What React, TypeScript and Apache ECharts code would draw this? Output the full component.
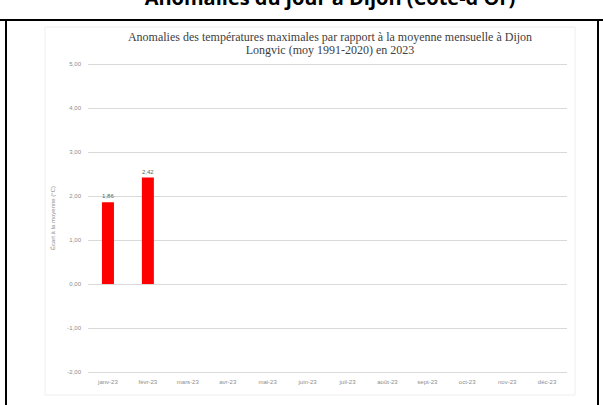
import React, { useEffect, useRef } from "react";
import * as echarts from "echarts";

const months = ["janv-23", "févr-23", "mars-23", "avr-23", "mai-23", "juin-23", "juil-23", "août-23", "sept-23", "oct-23", "nov-23", "déc-23"];
const anomalies: (number | null)[] = [1.86, 2.42, null, null, null, null, null, null, null, null, null, null];
const titleLines = [
  "Anomalies des températures maximales par rapport à la moyenne mensuelle à Dijon",
  "Longvic (moy 1991-2020) en 2023",
];
const headerText = "Anomalies du jour à Dijon (Côte-d'Or)";
const yAxisName = "Écart à la moyenne (°C)";

export default function App() {
  const ref = useRef<HTMLDivElement>(null);
  useEffect(() => {
    if (!ref.current) return;
    const chart = echarts.init(ref.current, null, { renderer: "svg" });
    chart.setOption({
      animation: false,
      backgroundColor: "#ffffff",
      graphic: [
        { type: "rect", shape: { x: 45, y: 27, width: 530, height: 368 }, style: { fill: "#ffffff", stroke: "#eeeeee", lineWidth: 1 }, z: -10 },
        { type: "line", shape: { x1: 0, y1: 20, x2: 603, y2: 20 }, style: { stroke: "#000000", lineWidth: 2 } },
        { type: "line", shape: { x1: 6, y1: 20, x2: 6, y2: 405 }, style: { stroke: "#000000", lineWidth: 2 } },
        { type: "line", shape: { x1: 598, y1: 20, x2: 598, y2: 405 }, style: { stroke: "#000000", lineWidth: 2 } },
        { type: "text", x: 330, y: -13, style: { text: headerText, font: "bold 20px 'Open Sans'", fill: "#000000", textAlign: "center", textVerticalAlign: "top" } },
        { type: "text", x: 330, y: 37, style: { text: titleLines[0], font: "12px 'Liberation Serif'", fill: "#404040", textAlign: "center", textVerticalAlign: "middle" } },
        { type: "text", x: 330, y: 50, style: { text: titleLines[1], font: "12px 'Liberation Serif'", fill: "#404040", textAlign: "center", textVerticalAlign: "middle" } },
      ],
      grid: { left: 88, right: 36, top: 64, bottom: 33 },
      xAxis: {
        type: "category",
        data: months,
        axisLine: { show: false },
        axisTick: { show: false },
        axisLabel: { fontSize: 6, color: "#8c8c8c", margin: 7, fontFamily: "Liberation Sans" },
      },
      yAxis: {
        type: "value",
        min: -2,
        max: 5,
        interval: 1,
        name: yAxisName,
        nameLocation: "middle",
        nameGap: 28,
        nameTextStyle: { fontSize: 6, color: "#8c8c8c", fontFamily: "Liberation Sans" },
        axisLine: { show: false },
        axisTick: { show: false },
        axisLabel: { fontSize: 6, color: "#8c8c8c", margin: 7, fontFamily: "Liberation Sans", formatter: (v: number) => v.toFixed(2).replace(".", ",") },
        splitLine: { lineStyle: { color: "#d9d9d9", width: 1 } },
      },
      series: [
        {
          type: "bar",
          data: anomalies,
          barWidth: 12,
          itemStyle: { color: "#ff0000" },
          label: {
            show: true,
            position: "top",
            fontSize: 6,
            color: "#4d6a6a",
            distance: 3,
            formatter: (p: any) => (p.value == null ? "" : Number(p.value).toFixed(2).replace(".", ",")),
          },
        },
      ],
    });
    return () => chart.dispose();
  }, []);
  return <div ref={ref} style={{ position: "fixed", left: 0, top: 0, width: 603, height: 405 }} />;
}
